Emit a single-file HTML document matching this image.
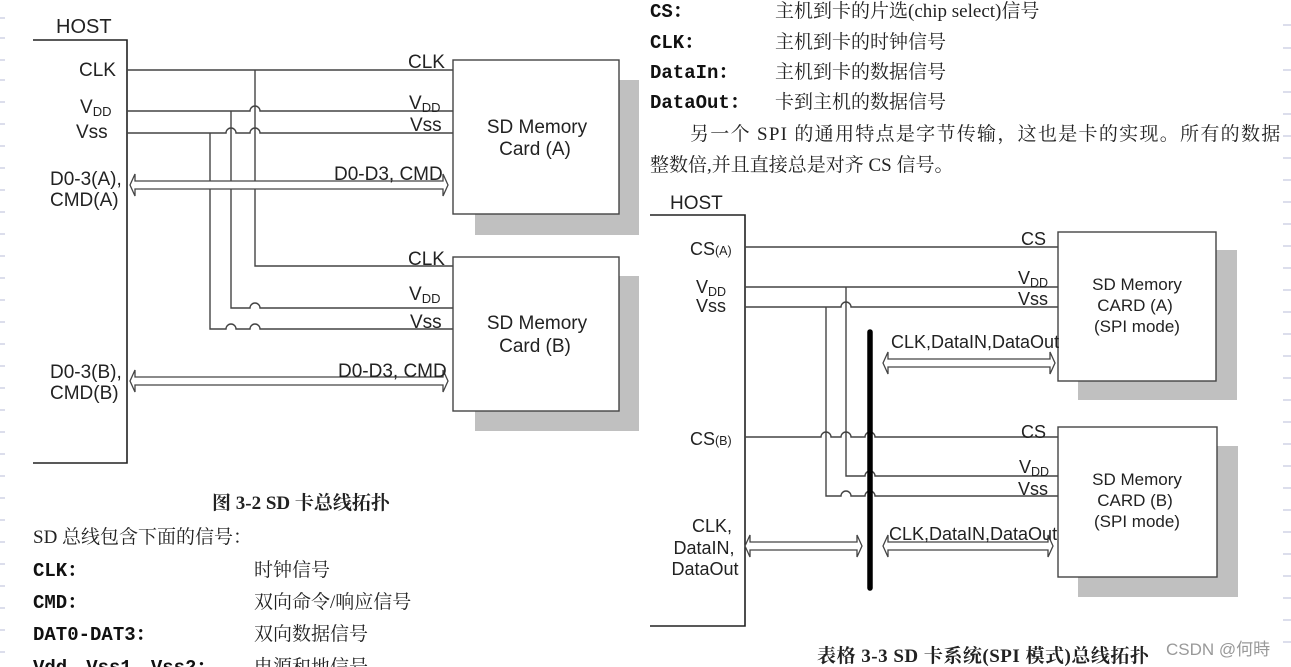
<!DOCTYPE html>
<html><head><meta charset="utf-8"><style>
html,body{margin:0;padding:0;background:#fff;}
svg{display:block;}
.s{font-family:"Liberation Sans",sans-serif;fill:#222;}
.c{font-family:"Liberation Serif","Noto Serif CJK SC",serif;fill:#222;}
.m{font-family:"Liberation Mono","Noto Serif CJK SC",monospace;fill:#111;font-weight:bold;}
</style></head><body>
<svg width="1291" height="667" viewBox="0 0 1291 667" xmlns="http://www.w3.org/2000/svg">
<defs><clipPath id="cl"><rect x="0" y="0" width="1281" height="667"/></clipPath></defs>
<g stroke="#b8bcd8" stroke-width="1">
<path d="M0 18h5M0 38h5M0 60h5M0 80h5M0 102h5M0 124h5M0 146h5M0 168h5M0 190h5M0 212h5M0 234h5M0 256h5M0 278h5M0 300h5M0 322h5M0 344h5M0 366h5M0 388h5M0 410h5M0 432h5M0 454h5M0 476h5M0 498h5M0 520h5M0 542h5M0 564h5M0 586h5M0 608h5M0 630h5M0 652h5"/>
<path d="M1283 25h8M1283 48h8M1283 70h8M1283 92h8M1283 114h8M1283 136h8M1283 158h8M1283 180h8M1283 202h8M1283 224h8M1283 246h8M1283 268h8M1283 290h8M1283 312h8M1283 334h8M1283 356h8M1283 378h8M1283 400h8M1283 422h8M1283 444h8M1283 466h8M1283 488h8M1283 510h8M1283 532h8M1283 554h8M1283 576h8M1283 598h8M1283 620h8M1283 642h8"/>
</g>
<!-- LEFT DIAGRAM -->
<rect x="475" y="80" width="164" height="155" fill="#c0c0c0"/>
<rect x="475" y="276" width="164" height="155" fill="#c0c0c0"/>
<rect x="453" y="60" width="166" height="154" fill="#fff" stroke="#444" stroke-width="1.4"/>
<rect x="453" y="257" width="166" height="154" fill="#fff" stroke="#444" stroke-width="1.4"/>
<path d="M33 40H127V463H33" fill="none" stroke="#222" stroke-width="1.6"/>
<g fill="none" stroke="#444" stroke-width="1.4">
<path d="M127 70H453M255 70V266H453"/>
<path d="M127 111H250a5 5 0 0 1 10 0H453M231 111V308H250a5 5 0 0 1 10 0H453"/>
<path d="M127 133H226a5 5 0 0 1 10 0H250a5 5 0 0 1 10 0H453M210 133V329H226a5 5 0 0 1 10 0H250a5 5 0 0 1 10 0H453"/>
</g>
<g fill="#fff" stroke="#444" stroke-width="1.3">
<polygon points="130,185 135,174 135,181 443,181 443,174 448,185 443,196 443,189 135,189 135,196"/>
<polygon points="130,381 135,370 135,377 443,377 443,370 448,381 443,392 443,385 135,385 135,392"/>
</g>
<g class="s" font-size="19">
<text x="56" y="33" font-size="20">HOST</text>
<text x="79" y="76">CLK</text>
<text x="80" y="113">V<tspan font-size="13" dy="3">DD</tspan></text>
<text x="76" y="138">Vss</text>
<text x="50" y="185">D0-3(A),</text>
<text x="50" y="206">CMD(A)</text>
<text x="50" y="378">D0-3(B),</text>
<text x="50" y="399">CMD(B)</text>
<text x="408" y="68">CLK</text>
<text x="409" y="109">V<tspan font-size="13" dy="3">DD</tspan></text>
<text x="410" y="131">Vss</text>
<text x="334" y="180">D0-D3, CMD</text>
<text x="408" y="265">CLK</text>
<text x="409" y="300">V<tspan font-size="13" dy="3">DD</tspan></text>
<text x="410" y="328">Vss</text>
<text x="338" y="377">D0-D3, CMD</text>
<text x="537" y="133" text-anchor="middle">SD Memory</text>
<text x="535" y="155" text-anchor="middle">Card (A)</text>
<text x="537" y="329" text-anchor="middle">SD Memory</text>
<text x="535" y="352" text-anchor="middle">Card (B)</text>
</g>
<!-- RIGHT DIAGRAM -->
<rect x="1078" y="250" width="159" height="150" fill="#c0c0c0"/>
<rect x="1078" y="446" width="160" height="151" fill="#c0c0c0"/>
<rect x="1058" y="232" width="158" height="149" fill="#fff" stroke="#444" stroke-width="1.4"/>
<rect x="1058" y="427" width="159" height="150" fill="#fff" stroke="#444" stroke-width="1.4"/>
<path d="M650 215H745V626H650" fill="none" stroke="#222" stroke-width="1.6"/>
<g fill="none" stroke="#444" stroke-width="1.4">
<path d="M745 247H1058"/>
<path d="M745 287H1058M846 287V476H865a5 5 0 0 1 10 0H1058"/>
<path d="M745 307H841a5 5 0 0 1 10 0H1058M826 307V496H841a5 5 0 0 1 10 0H865a5 5 0 0 1 10 0H1058"/>
<path d="M745 437H821a5 5 0 0 1 10 0H841a5 5 0 0 1 10 0H865a5 5 0 0 1 10 0H1058"/>
</g>
<line x1="870" y1="332" x2="870" y2="588" stroke="#000" stroke-width="5.5" stroke-linecap="round"/>
<g fill="#fff" stroke="#444" stroke-width="1.3">
<polygon points="883,363 888,352 888,359 1050,359 1050,352 1055,363 1050,374 1050,367 888,367 888,374"/>
<polygon points="883,546 888,535 888,542 1048,542 1048,535 1053,546 1048,557 1048,550 888,550 888,557"/>
<polygon points="745,546 750,535 750,542 857,542 857,535 862,546 857,557 857,550 750,550 750,557"/>
</g>
<g class="s" font-size="18">
<text x="670" y="209" font-size="19">HOST</text>
<text x="690" y="255">CS<tspan font-size="12.5">(A)</tspan></text>
<text x="696" y="293">V<tspan font-size="12.5" dy="3">DD</tspan></text>
<text x="696" y="312">Vss</text>
<text x="690" y="445">CS<tspan font-size="12.5">(B)</tspan></text>
<text x="712" y="532" text-anchor="middle">CLK,</text>
<text x="704" y="554" text-anchor="middle">DataIN,</text>
<text x="705" y="575" text-anchor="middle">DataOut</text>
<text x="1021" y="245">CS</text>
<text x="1018" y="284">V<tspan font-size="12.5" dy="3">DD</tspan></text>
<text x="1018" y="305">Vss</text>
<text x="891" y="348">CLK,DataIN,DataOut</text>
<text x="1021" y="438">CS</text>
<text x="1019" y="473">V<tspan font-size="12.5" dy="3">DD</tspan></text>
<text x="1018" y="495">Vss</text>
<text x="889" y="540">CLK,DataIN,DataOut</text>
<text x="1137" y="290" text-anchor="middle" font-size="17">SD Memory</text>
<text x="1135" y="311" text-anchor="middle" font-size="17">CARD (A)</text>
<text x="1137" y="332" text-anchor="middle" font-size="17">(SPI mode)</text>
<text x="1137" y="485" text-anchor="middle" font-size="17">SD Memory</text>
<text x="1135" y="506" text-anchor="middle" font-size="17">CARD (B)</text>
<text x="1137" y="527" text-anchor="middle" font-size="17">(SPI mode)</text>
</g>
<!-- TEXT -->
<g clip-path="url(#cl)" font-size="19">
<text class="m" x="650" y="17">CS：</text>
<text class="c" x="775" y="17">主机到卡的片选(chip select)信号</text>
<text class="m" x="650" y="48">CLK：</text>
<text class="c" x="775" y="48">主机到卡的时钟信号</text>
<text class="m" x="650" y="78">DataIn：</text>
<text class="c" x="775" y="78">主机到卡的数据信号</text>
<text class="m" x="650" y="108">DataOut：</text>
<text class="c" x="775" y="108">卡到主机的数据信号</text>
<text class="c" x="690" y="140" letter-spacing="1.3">另一个 SPI 的通用特点是字节传输，这也是卡的实现。所有的数据</text>
<text class="c" x="650" y="171">整数倍,并且直接总是对齐 CS 信号。</text>
</g>
<text class="c" x="212" y="509" font-size="19" font-weight="bold">图 3-2 SD 卡总线拓扑</text>
<g font-size="19">
<text class="c" x="33" y="543">SD 总线包含下面的信号：</text>
<text class="m" x="33" y="576">CLK：</text>
<text class="c" x="254" y="576">时钟信号</text>
<text class="m" x="33" y="608">CMD：</text>
<text class="c" x="254" y="608">双向命令/响应信号</text>
<text class="m" x="33" y="640">DAT0-DAT3：</text>
<text class="c" x="254" y="640">双向数据信号</text>
<text class="m" x="33" y="673">Vdd、Vss1、Vss2：</text>
<text class="c" x="254" y="673">电源和地信号</text>
</g>
<text class="c" x="817" y="662" font-size="19" font-weight="bold" letter-spacing="0.5">表格 3-3 SD 卡系统(SPI 模式)总线拓扑</text>
<text x="1166" y="655" font-size="17" fill="#999" font-family="Liberation Sans,Noto Sans CJK SC,sans-serif">CSDN @何時</text>
</svg>
</body></html>
